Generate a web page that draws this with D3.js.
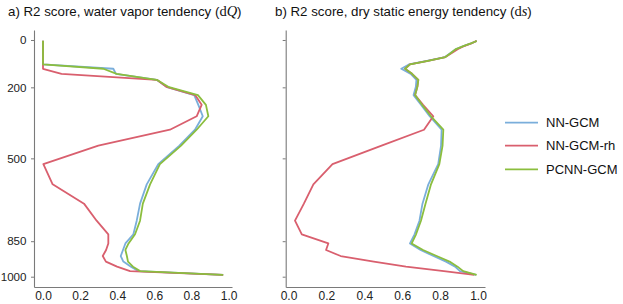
<!DOCTYPE html>
<html>
<head>
<meta charset="utf-8">
<script src="https://cdn.jsdelivr.net/npm/d3@7"></script>
<style>
  body { margin: 0; background: #fff; }
  text { font-family: "Liberation Sans", Arial, sans-serif; }
</style>
</head>
<body>
<div id="my_dataviz"></div>
<script>
// pressure levels (hPa) of the model
const levels = [3.64, 7.59, 14.36, 24.61, 38.27, 54.60, 72.01, 87.82, 103.32, 121.55,
  142.99, 168.23, 197.91, 232.83, 273.91, 322.24, 379.10, 445.99, 524.69, 609.78,
  691.39, 763.40, 820.86, 859.53, 887.02, 912.64, 936.20, 957.49, 976.33, 992.56];

const seriesNames = ["NN-GCM", "NN-GCM-rh", "PCNN-GCM"];
const colors = ["#7aaedb", "#d95f6e", "#8bbe3e"];

// a) water vapor tendency
const nnA = [0, 0, 0, 0, 0, 0, 0, 0, 0, 0.379, 0.393, 0.613, 0.665, 0.815, 0.837, 0.861, 0.819, 0.735,
  0.621, 0.559, 0.523, 0.505, 0.487, 0.444, 0.431, 0.419, 0.433, 0.474, 0.513, 0.971];
const rhA = [0, 0, 0, 0, 0, 0, 0, 0, 0, 0, 0.10, 0.613, 0.665, 0.82, 0.855, 0.828, 0.684, 0.298,
  0.002, 0.052, 0.221, 0.289, 0.352, 0.352, 0.34, 0.322, 0.339, 0.399, 0.469, 0.971];
const pcA = [0, 0, 0, 0, 0, 0, 0, 0, 0, 0.325, 0.397, 0.613, 0.675, 0.835, 0.878, 0.891, 0.828, 0.744,
  0.630, 0.577, 0.538, 0.523, 0.496, 0.461, 0.444, 0.452, 0.458, 0.485, 0.523, 0.971];

// b) dry static energy tendency
const nnB = [0.993, 0.984, 0.963, 0.926, 0.884, 0.855, 0.826, 0.73, 0.635, 0.595, 0.645, 0.675, 0.672,
  0.66, 0.70, 0.745, 0.808, 0.805, 0.79, 0.738, 0.707, 0.691, 0.665, 0.641, 0.697, 0.765, 0.831, 0.879, 0.905, 0.99];
const rhB = [0.993, 0.984, 0.965, 0.93, 0.895, 0.862, 0.828, 0.736, 0.641, 0.615, 0.652, 0.685, 0.68,
  0.668, 0.71, 0.764, 0.715, 0.491, 0.232, 0.131, 0.081, 0.034, 0.07, 0.21, 0.198, 0.275, 0.45, 0.62, 0.82, 0.98];
const pcB = [0.993, 0.984, 0.963, 0.926, 0.884, 0.857, 0.828, 0.736, 0.641, 0.615, 0.652, 0.685, 0.68,
  0.668, 0.705, 0.752, 0.817, 0.813, 0.796, 0.752, 0.723, 0.699, 0.673, 0.65, 0.71, 0.782, 0.85, 0.892, 0.922, 0.993];

const yTicks = [0, 200, 500, 850, 1000];
const xTicks = [0, 0.2, 0.4, 0.6, 0.8, 1.0];

const width = 623, height = 304;
const svg = d3.select("#my_dataviz")
  .append("svg")
    .attr("width", width)
    .attr("height", height);

// shared vertical scale (pressure)
const y = d3.scaleLinear()
  .domain([-42.2, 1043.5])
  .range([30, 287]);

const panels = [
  { x0: 34, x1: 232, dom: [-0.0485, 1.0185], data: [nnA, rhA, pcA], labels: true,
    title: "a) R2 score, water vapor tendency (", mathD: "d", mathV: "Q", tx: 8 },
  { x0: 285.7, x1: 485, dom: [-0.015, 1.037], data: [nnB, rhB, pcB], labels: false,
    title: "b) R2 score, dry static energy tendency (", mathD: "d", mathV: "s", tx: 275 }
];

panels.forEach(p => {
  const x = d3.scaleLinear().domain(p.dom).range([p.x0, p.x1]);

  // Y axis
  const ya = svg.append("g")
    .attr("transform", `translate(${p.x0},0)`)
    .call(d3.axisLeft(y).tickValues(yTicks).tickSize(3).tickSizeOuter(0).tickPadding(4.5)
      .tickFormat(p.labels ? d3.format("d") : ""));
  ya.select(".domain").attr("stroke", "#7a7a7a").attr("stroke-width", 1.1);
  ya.selectAll(".tick line").attr("stroke", "#7a7a7a");
  ya.selectAll(".tick text").attr("font-size", "11.6px").attr("fill", "#222")
    .style("font-family", "'Liberation Sans', Arial, sans-serif");

  // X axis
  const xa = svg.append("g")
    .attr("transform", "translate(0,287)")
    .call(d3.axisBottom(x).tickValues(xTicks).tickSize(0).tickPadding(4).tickFormat(d3.format(".1f")));
  xa.select(".domain").attr("stroke", "#7a7a7a").attr("stroke-width", 1.1);
  xa.selectAll(".tick text").attr("font-size", "12px").attr("fill", "#222")
    .style("font-family", "'Liberation Sans', Arial, sans-serif");

  // lines
  const line = d3.line()
    .x(d => x(d[1]))
    .y(d => y(d[0]));
  p.data.forEach((vals, i) => {
    svg.append("path")
      .datum(levels.map((lv, k) => [lv, vals[k]]))
      .attr("fill", "none")
      .attr("stroke", colors[i])
      .attr("stroke-width", 1.8)
      .attr("stroke-linejoin", "round")
      .attr("d", line);
  });

  // title
  const t = svg.append("text")
    .attr("x", p.tx)
    .attr("y", 16)
    .attr("font-size", "13.3px")
    .attr("fill", "#111");
  t.append("tspan").text(p.title);
  t.append("tspan").style("font-family", "'Liberation Serif', 'DejaVu Serif', serif").attr("font-size", "14.5px").text(p.mathD);
  t.append("tspan").style("font-family", "'Liberation Serif', 'DejaVu Serif', serif").attr("font-size", "14.5px")
    .attr("font-style", "italic").text(p.mathV);
  t.append("tspan").text(")");
});

// legend
const legendY = [122.7, 145.7, 169.3];
seriesNames.forEach((name, i) => {
  svg.append("line")
    .attr("x1", 505).attr("x2", 538)
    .attr("y1", legendY[i]).attr("y2", legendY[i])
    .attr("stroke", colors[i])
    .attr("stroke-width", 1.8);
  svg.append("text")
    .attr("x", 546)
    .attr("y", legendY[i] + 4.6)
    .attr("font-size", "13px")
    .attr("fill", "#111")
    .text(name);
});
</script>
</body>
</html>
